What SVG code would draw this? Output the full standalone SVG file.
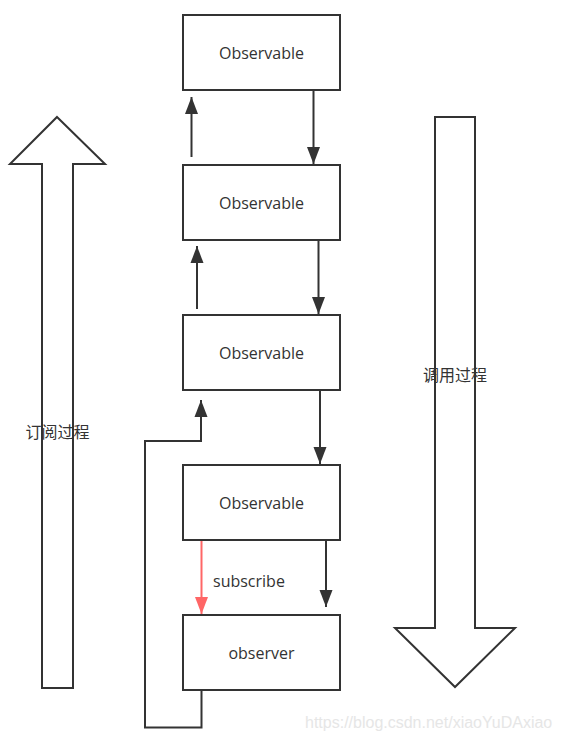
<svg xmlns="http://www.w3.org/2000/svg" width="561" height="742" viewBox="0 0 561 742">
  <style>
    .box { fill: #ffffff; stroke: #333333; stroke-width: 2; }
    .lbl { font-family: "Open Sans", "Liberation Sans", sans-serif; font-size: 16px; fill: #333333; text-anchor: middle; }
    .cjk { font-family: "Noto Sans CJK SC", "Noto Sans", sans-serif; font-size: 16px; fill: #333333; text-anchor: middle; }
    .big { fill: #ffffff; stroke: #333333; stroke-width: 2; stroke-linejoin: miter; }
    .edge { fill: none; stroke: #333333; stroke-width: 2; }
    .red { fill: none; stroke: #ff6666; stroke-width: 2; }
    .wm { font-family: "Liberation Sans", Arial, sans-serif; font-size: 16px; fill: #e6e6e6; }
  </style>
  <defs>
    <marker id="ah" markerUnits="userSpaceOnUse" markerWidth="18" markerHeight="14" refX="17" refY="7" orient="auto">
      <path d="M0,0.5 L17,7 L0,13.5 Z" fill="#333333"/>
    </marker>
    <marker id="ahr" markerUnits="userSpaceOnUse" markerWidth="18" markerHeight="14" refX="17" refY="7" orient="auto">
      <path d="M0,0.5 L17,7 L0,13.5 Z" fill="#ff6666"/>
    </marker>
  </defs>

  <g id="subscribe-process">
    <polygon class="big" points="57,117 105,164 73,164 73,688 42,688 42,164 10,164"/>
    <text class="cjk" x="57.5" y="438">订阅过程</text>
  </g>

  <g id="call-process">
    <polygon class="big" points="435,117 475,117 475,628 515,628 455,687 395,628 435,628"/>
    <text class="cjk" x="455" y="381">调用过程</text>
  </g>

  <g id="connectors">
    <line class="edge" x1="191.5" y1="157" x2="191.5" y2="97" marker-end="url(#ah)"/>
    <line class="edge" x1="313.5" y1="90" x2="313.5" y2="164" marker-end="url(#ah)"/>
    <line class="edge" x1="197" y1="309" x2="197" y2="246" marker-end="url(#ah)"/>
    <line class="edge" x1="318.5" y1="240" x2="318.5" y2="314" marker-end="url(#ah)"/>
    <polyline class="edge" points="201.5,690 201.5,727.5 145,727.5 145,441 201,441 201,400" marker-end="url(#ah)"/>
    <line class="edge" x1="320" y1="390" x2="320" y2="464" marker-end="url(#ah)"/>
    <line class="red" x1="201.5" y1="540" x2="201.5" y2="614" marker-end="url(#ahr)"/>
    <line class="edge" x1="326" y1="540" x2="326" y2="607" marker-end="url(#ah)"/>
    <text class="lbl" x="213" y="587" style="text-anchor:start">subscribe</text>
  </g>

  <g id="observable-1">
    <rect class="box" x="183" y="15" width="157" height="75"/>
    <text class="lbl" x="261.5" y="59">Observable</text>
  </g>
  <g id="observable-2">
    <rect class="box" x="183" y="165" width="157" height="75"/>
    <text class="lbl" x="261.5" y="209">Observable</text>
  </g>
  <g id="observable-3">
    <rect class="box" x="183" y="315" width="157" height="75"/>
    <text class="lbl" x="261.5" y="359">Observable</text>
  </g>
  <g id="observable-4">
    <rect class="box" x="183" y="465" width="157" height="75"/>
    <text class="lbl" x="261.5" y="509">Observable</text>
  </g>
  <g id="observer">
    <rect class="box" x="183" y="615" width="157" height="75"/>
    <text class="lbl" x="261.5" y="659">observer</text>
  </g>

  <text class="wm" x="305" y="728">https://blog.csdn.net/xiaoYuDAxiao</text>
</svg>
